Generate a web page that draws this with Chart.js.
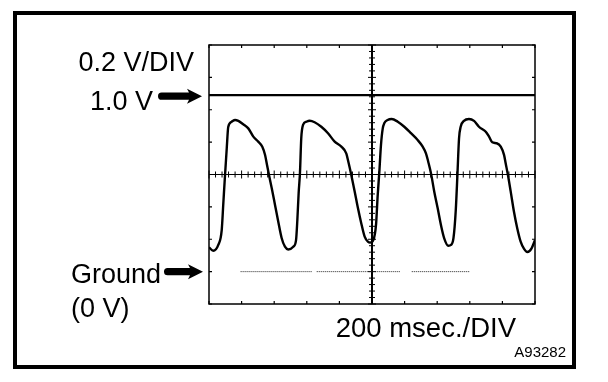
<!DOCTYPE html>
<html lang="en">
<head>
    <meta charset="UTF-8">
    <title>Oscilloscope Waveform</title>
    <script src="https://cdn.jsdelivr.net/npm/chart.js"></script>
    <style>
        body {
            margin: 0;
            background: #fff;
        }
        #scope {
            display: block;
        }
    </style>
</head>
<body>
<canvas id="scope" width="608" height="382"></canvas>

<script>
// time axis: 200 msec/DIV, 10 divisions
const xTicks = [0, 200, 400, 600, 800, 1000, 1200, 1400, 1600, 1800, 2000];
// voltage axis: 0.2 V/DIV, 8 divisions (ground is one div above the bottom)
const yTicks = [-0.2, 0, 0.2, 0.4, 0.6, 0.8, 1.0, 1.2, 1.4];

// waveform (msec, volts)
const timeMs = [0, 26, 57, 78, 88, 98, 109, 118, 139, 160, 180, 210, 241, 272, 302, 327, 344, 356, 368, 385,
    405, 425, 446, 466, 486, 517, 534, 542, 550, 558, 566, 577, 597, 618, 648, 689, 730, 771, 812, 842,
    857, 873, 894, 914, 934, 955, 975, 988, 1008, 1025, 1035, 1045, 1055, 1066, 1075, 1096, 1121, 1158, 1198, 1239,
    1280, 1311, 1331, 1345, 1362, 1382, 1403, 1423, 1443, 1468, 1485, 1500, 1514, 1524, 1534, 1544, 1564, 1595, 1626, 1656,
    1698, 1718, 1738, 1765, 1790, 1810, 1820, 1834, 1851, 1871, 1891, 1912, 1933, 1953, 1979, 2000];
const volts = [0.150, 0.129, 0.165, 0.257, 0.424, 0.591, 0.764, 0.894, 0.926, 0.937, 0.931, 0.910, 0.885, 0.834, 0.803, 0.772, 0.721, 0.659, 0.597, 0.515,
    0.412, 0.308, 0.206, 0.154, 0.137, 0.154, 0.195, 0.319, 0.486, 0.609, 0.824, 0.906, 0.926, 0.932, 0.923, 0.895, 0.855, 0.803, 0.772, 0.731,
    0.669, 0.597, 0.494, 0.391, 0.299, 0.216, 0.185, 0.179, 0.195, 0.294, 0.473, 0.616, 0.782, 0.885, 0.916, 0.937, 0.943, 0.926, 0.895, 0.855,
    0.813, 0.772, 0.731, 0.679, 0.607, 0.494, 0.391, 0.288, 0.206, 0.160, 0.165, 0.208, 0.381, 0.597, 0.824, 0.895, 0.931, 0.943, 0.931, 0.895,
    0.864, 0.834, 0.799, 0.793, 0.772, 0.721, 0.669, 0.597, 0.494, 0.370, 0.268, 0.185, 0.140, 0.121, 0.144, 0.195];

// the "1.0 V" marker line as drawn on the screen
const refLevel = 1.09;
const refT = [0, 2000];

// dotted ground trace, null = gap
const groundT = [194, 630, 645, 661, 1172, 1208, 1244, 1601];
const groundV = [0, 0, null, 0, 0, null, 0, 0];

const toPoints = (xs, ys) => xs.map((x, i) => ({ x: x, y: ys[i] }));

function drawArrow(ctx, x0, x1, y) {
    ctx.save();
    ctx.fillStyle = '#000';
    ctx.beginPath();
    ctx.moveTo(x0 + 3.6, y - 3.6);
    ctx.lineTo(x1 - 13, y - 3.6);
    ctx.lineTo(x1 - 15, y - 7.5);
    ctx.lineTo(x1, y);
    ctx.lineTo(x1 - 15, y + 7.5);
    ctx.lineTo(x1 - 13, y + 3.6);
    ctx.lineTo(x0 + 3.6, y + 3.6);
    ctx.arc(x0 + 3.6, y, 3.6, Math.PI / 2, Math.PI * 1.5);
    ctx.closePath();
    ctx.fill();
    ctx.restore();
}

const scopeDecor = {
    id: 'scopeDecor',
    beforeDatasetsDraw(chart) {
        const { ctx, chartArea: a, scales: { x, y } } = chart;
        ctx.save();
        ctx.strokeStyle = '#000';

        // outer frame
        ctx.lineWidth = 4;
        ctx.strokeRect(15, 13, 559, 354);

        // screen border
        ctx.lineWidth = 1.5;
        ctx.strokeRect(a.left, a.top, a.right - a.left, a.bottom - a.top);

        // division ticks on the border
        ctx.lineWidth = 1.2;
        ctx.beginPath();
        xTicks.forEach(t => {
            const px = x.getPixelForValue(t);
            ctx.moveTo(px, a.top); ctx.lineTo(px, a.top + 3);
            ctx.moveTo(px, a.bottom); ctx.lineTo(px, a.bottom - 3);
        });
        yTicks.forEach(v => {
            const py = y.getPixelForValue(v);
            ctx.moveTo(a.left, py); ctx.lineTo(a.left + 3, py);
            ctx.moveTo(a.right, py); ctx.lineTo(a.right - 3, py);
        });
        ctx.stroke();

        // centre cross
        const cx = x.getPixelForValue(1000);
        const cy = y.getPixelForValue(0.6);
        ctx.lineWidth = 2;
        ctx.beginPath();
        ctx.moveTo(cx, a.top); ctx.lineTo(cx, a.bottom);
        ctx.stroke();
        ctx.lineWidth = 1.2;
        ctx.beginPath();
        ctx.moveTo(a.left, cy); ctx.lineTo(a.right, cy);
        ctx.stroke();

        // fine ticks, 5 per division
        ctx.lineWidth = 1;
        ctx.beginPath();
        for (let t = 0; t <= 2000; t += 40) {
            const px = x.getPixelForValue(t);
            const len = t % 200 === 0 ? 4 : 3;
            ctx.moveTo(px, cy - len); ctx.lineTo(px, cy + len);
        }
        for (let v = -0.2; v <= 1.4001; v += 0.04) {
            const py = y.getPixelForValue(v);
            const len = Math.abs(Math.round(v * 5) - v * 5) < 0.01 ? 4 : 3;
            ctx.moveTo(cx - len, py); ctx.lineTo(cx + len, py);
        }
        ctx.stroke();
        ctx.restore();
    },
    afterDraw(chart) {
        const { ctx, scales: { y } } = chart;
        ctx.save();
        ctx.fillStyle = '#000';
        ctx.font = '27px "Liberation Sans", Arial, sans-serif';
        ctx.textBaseline = 'alphabetic';

        ctx.textAlign = 'right';
        ctx.fillText('0.2 V/DIV', 194, 71);
        ctx.fillText('1.0 V', 153, 110);
        ctx.font = '27.5px "Liberation Sans", Arial, sans-serif';
        ctx.fillText('200 msec./DIV', 516, 337);

        ctx.font = '27px "Liberation Sans", Arial, sans-serif';
        ctx.textAlign = 'left';
        ctx.fillText('Ground', 71, 283);
        ctx.fillText('(0 V)', 71, 317);

        ctx.textAlign = 'right';
        ctx.font = '15px "Liberation Sans", Arial, sans-serif';
        ctx.fillText('A93282', 566, 357);

        drawArrow(ctx, 158, 202, y.getPixelForValue(refLevel) + 1);
        drawArrow(ctx, 164, 203, y.getPixelForValue(0));
        ctx.restore();
    }
};

const ctx = document.getElementById('scope').getContext('2d');
new Chart(ctx, {
    type: 'line',
    data: {
        datasets: [
            {
                label: 'Signal',
                data: toPoints(timeMs, volts),
                borderColor: '#000',
                borderWidth: 2.4,
                pointRadius: 0,
                cubicInterpolationMode: 'monotone',
                fill: false
            },
            {
                label: '1.0 V',
                data: toPoints(refT, [refLevel, refLevel]),
                borderColor: '#000',
                borderWidth: 2.2,
                pointRadius: 0,
                fill: false
            },
            {
                label: 'Ground',
                data: toPoints(groundT, groundV),
                borderColor: '#222',
                borderWidth: 1,
                borderDash: [1, 1],
                pointRadius: 0,
                spanGaps: false,
                fill: false
            }
        ]
    },
    options: {
        responsive: false,
        animation: false,
        devicePixelRatio: 1,
        layout: {
            padding: { left: 209, right: 73, top: 45, bottom: 78 }
        },
        plugins: {
            legend: { display: false },
            tooltip: { enabled: false }
        },
        scales: {
            x: { type: 'linear', min: 0, max: 2000, display: false },
            y: { type: 'linear', min: -0.2, max: 1.4, display: false }
        }
    },
    plugins: [scopeDecor]
});
</script>

</body>
</html>
